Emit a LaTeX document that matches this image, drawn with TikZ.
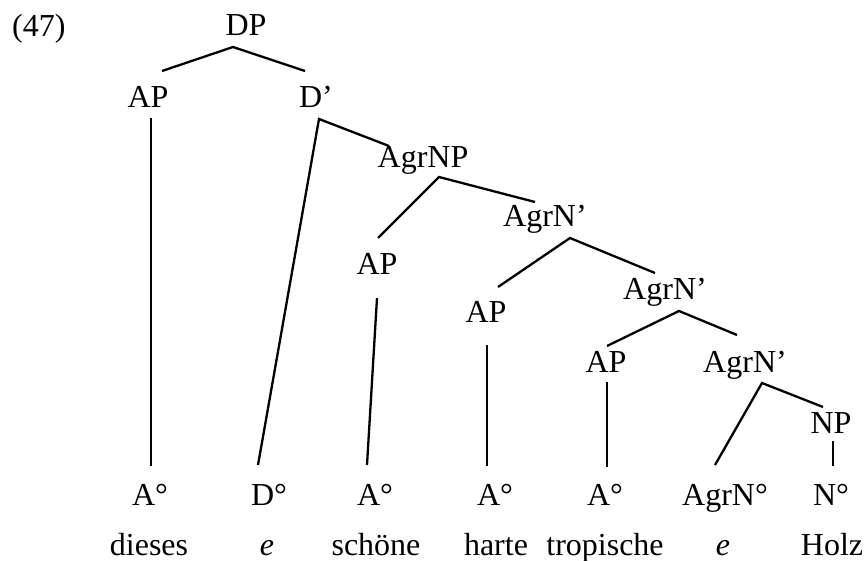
\documentclass[tikz,border=0pt]{standalone}
\usepackage{fontspec}
\setmainfont{Liberation Serif}
\usetikzlibrary{calc}
\begin{document}
\begin{tikzpicture}[x=1pt,y=-1pt,
  lab/.style={anchor=base,inner sep=0pt,font=\fontsize{32}{38}\selectfont},
  edge/.style={line width=2.3pt}]
\useasboundingbox (0,0) rectangle (865,561);

% example number
\node[lab,anchor=base west] (num) at (12,37) {(47)};

% phrase labels
\node[lab] (DP)   at (246,36)  {DP};
\node[lab] (AP1)  at (148,108) {AP};
\node[lab] (Dbar) at (316,108) {D’};
\node[lab] (AgrNP) at (423,168) {AgrNP};
\node[lab] (Agr1) at (545,227) {AgrN’};
\node[lab] (AP2)  at (377,275) {AP};
\node[lab] (Agr2) at (665,300) {AgrN’};
\node[lab] (AP3)  at (486,323) {AP};
\node[lab] (AP4)  at (606,372) {AP};
\node[lab] (Agr3) at (745,372) {AgrN’};
\node[lab] (NP)   at (831,433) {NP};

% heads
\node[lab] (H1) at (150,505) {A°};
\node[lab] (H2) at (269,505) {D°};
\node[lab] (H3) at (375,505) {A°};
\node[lab] (H4) at (495,505) {A°};
\node[lab] (H5) at (605,505) {A°};
\node[lab] (H6) at (725,505) {AgrN°};
\node[lab] (H7) at (831,505) {N°};

% words
\node[lab] (W1) at (149,555) {dieses};
\node[lab] (W2) at (267,555) {\textit{e}};
\node[lab] (W3) at (376,555) {schöne};
\node[lab] (W4) at (496,555) {harte};
\node[lab] (W5) at (605,555) {tropische};
\node[lab] (W6) at (723,555) {\textit{e}};
\node[lab] (W7) at (832,555) {Holz};

% branches
\draw[edge] ($(AP1.base)+(14,-37)$) -- ($(DP.base)+(-13,11)$) -- ($(Dbar.base)+(-11,-37)$);
\draw[edge] ($(AP1.base)+(3,10)$) -- ($(H1.base)+(1,-39)$);
\draw[edge] ($(H2.base)+(-11,-40)$) -- ($(Dbar.base)+(3,11)$) -- ($(AgrNP.base)+(-34,-22)$);
\draw[edge] ($(AP2.base)+(1,-37)$) -- ($(AgrNP.base)+(16,9)$) -- ($(Agr1.base)+(-10,-25)$);
\draw[edge] ($(AP2.base)+(0,23)$) -- ($(H3.base)+(-8,-40)$);
\draw[edge] ($(AP3.base)+(12,-36)$) -- ($(Agr1.base)+(25,11)$) -- ($(Agr2.base)+(-10,-27)$);
\draw[edge] ($(AP3.base)+(1,22)$) -- ($(H4.base)+(-8,-39)$);
\draw[edge] ($(AP4.base)+(1,-26)$) -- ($(Agr2.base)+(14,11)$) -- ($(Agr3.base)+(-8,-37)$);
\draw[edge] ($(AP4.base)+(1,10)$) -- ($(H5.base)+(2,-38)$);
\draw[edge] ($(H6.base)+(-10,-40)$) -- ($(Agr3.base)+(17,11)$) -- ($(NP.base)+(-8,-26)$);
\draw[edge] ($(NP.base)+(2,8)$) -- ($(H7.base)+(2,-39)$);
\end{tikzpicture}
\end{document}
